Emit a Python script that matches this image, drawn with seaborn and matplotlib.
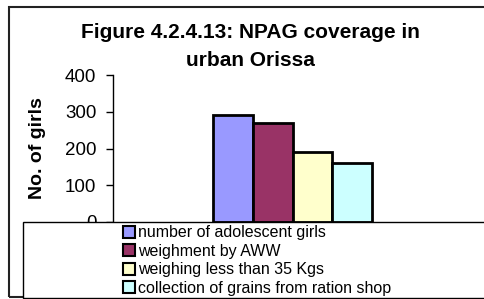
import pandas as pd
import matplotlib.pyplot as plt
import seaborn as sns
from matplotlib.patches import Rectangle

# ---------------- DATA ----------------
measures = [
    "number of adolescent girls",
    "weighment by AWW",
    "weighing less than 35 Kgs",
    "collection of grains from ration shop",
]
girls = [290, 270, 190, 160]
colors = ["#9999FF", "#993366", "#FFFFCC", "#CCFFFF"]
y_ticks = [0, 100, 200, 300, 400]

df = pd.DataFrame({"group": [""] * len(measures), "measure": measures, "girls": girls})

# ---------------- STYLE ----------------
sns.set_style("white")
plt.rcParams["font.family"] = ["Liberation Sans", "DejaVu Sans"]
plt.rcParams["text.color"] = "black"
plt.rcParams["axes.labelcolor"] = "black"
plt.rcParams["ytick.color"] = "black"

W, H = 485, 299
fig = plt.figure(figsize=(W / 100, H / 100), dpi=100)
ax = fig.add_axes([113 / W, 1 - 222 / H, (472 - 113) / W, (222 - 75) / H])

sns.barplot(data=df, x="group", y="girls", hue="measure", hue_order=measures,
            palette=colors, edgecolor="black", linewidth=2, width=0.442,
            saturation=1, ax=ax)
handles, labels = ax.get_legend_handles_labels()
if ax.legend_ is not None:
    ax.legend_.remove()

ax.set_xlim(-0.5, 0.5)
ax.set_ylim(0, 400)
ax.set_yticks(y_ticks)
ax.set_xticks([])
ax.set_xlabel("")
ax.set_ylabel("No. of girls", fontsize=14, fontweight="bold")
ax.yaxis.set_label_coords((46 - 113) / (472 - 113), 0.5)
ax.tick_params(axis="y", labelsize=13.5, length=5, width=1, color="black",
               direction="out", pad=7, left=True, labelcolor="black")
for s in ["top", "right", "bottom"]:
    ax.spines[s].set_visible(False)
ax.spines["left"].set_color("black")
ax.spines["left"].set_linewidth(1)
ax.patch.set_alpha(0)

# title centred over the chart area
fig.text(250 / W, 1 - 32 / H, "Figure 4.2.4.13: NPAG coverage in", ha="center",
         va="center", fontsize=15, fontweight="bold", color="black")
fig.text(250 / W, 1 - 60 / H, "urban Orissa", ha="center", va="center",
         fontsize=15, fontweight="bold", color="black")

# outer chart border
fig.patches.append(Rectangle((9 / W, 1 - 297 / H), (495 - 9) / W, (297 - 7) / H,
                             transform=fig.transFigure, fill=False,
                             edgecolor="#222222", linewidth=1.5, zorder=1))
# legend box
fig.patches.append(Rectangle((23 / W, 1 - 297.5 / H), (495 - 23) / W, (297.5 - 221.7) / H,
                             transform=fig.transFigure, facecolor="white",
                             edgecolor="black", linewidth=1, zorder=5))
leg = fig.legend(handles, labels, loc="upper left",
                 bbox_to_anchor=(110 / W, 1 - 212.5 / H), frameon=False,
                 fontsize=11.5, handlelength=0.75, handleheight=0.75,
                 handletextpad=0.2, labelspacing=0.22, borderpad=0.3,
                 labelcolor="black")
leg.set_zorder(6)
for h in leg.legend_handles:
    h.set_linewidth(1.5)

fig.savefig("out.png", dpi=100)
